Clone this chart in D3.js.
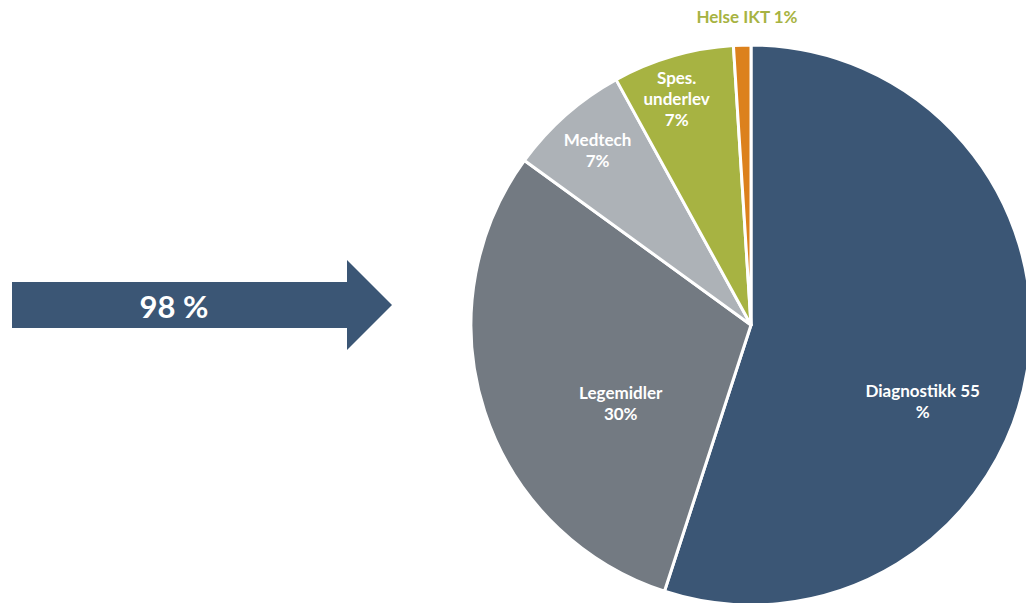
<!DOCTYPE html>
<html>
<head>
<meta charset="utf-8">
<script src="https://cdn.jsdelivr.net/npm/d3@7"></script>
<style>
  html, body { margin: 0; padding: 0; background: #fff; }
  svg { display: block; font-family: Lato, "Open Sans", sans-serif; font-weight: bold; }
</style>
</head>
<body>
<svg width="1026" height="603"></svg>
<script>
// data
let categories = ["Diagnostikk", "Legemidler", "Medtech", "Spes. underlev", "Helse IKT"];
let shares = [55, 30, 7, 7, 1];
let labelLines = [["Diagnostikk 55", "%"], ["Legemidler", "30%"], ["Medtech", "7%"], ["Spes.", "underlev", "7%"], ["Helse IKT 1%"]];
let arrowLabel = "98 %";

let colors = ["#3b5675", "#737a82", "#adb2b7", "#a7b342", "#dc811d"];

const svg = d3.select("svg");
const cx = 751, cy = 325, r = 280;

const pie = d3.pie().sort(null).value(d => d)(shares);
const arc = d3.arc().innerRadius(0).outerRadius(r);

const g = svg.append("g").attr("transform", `translate(${cx},${cy})`);

g.selectAll("path")
    .data(pie)
    .join("path")
    .attr("d", arc)
    .attr("fill", (d, i) => colors[i])
    .attr("stroke", "#fff")
    .attr("stroke-width", 3)
    .attr("stroke-linejoin", "round");

// label placement: radius and angle nudge (degrees) for each slice
let labelRadius = [188, 152, 232, 238, 308];
let labelShift = [15, -13, 0, -2, -3.5];

pie.forEach((d, i) => {
    let mid = (d.startAngle + d.endAngle) / 2 + labelShift[i] * Math.PI / 180;
    if (i == 4) mid = -0.013;
    let x = labelRadius[i] * Math.sin(mid);
    let y = -labelRadius[i] * Math.cos(mid);
    let lines = labelLines[i];
    let lh = 21;
    let t = g.append("text")
        .attr("text-anchor", "middle")
        .attr("font-size", 17)
        .attr("fill", i == 4 ? colors[3] : "#fff");
    lines.forEach((s, k) => {
        t.append("tspan")
            .attr("x", x)
            .attr("y", y + (k - (lines.length - 1) / 2) * lh + 6)
            .text(s);
    });
});

// arrow on the left
const arrow = svg.append("g");
arrow.append("path")
    .attr("d", "M12,282 L347,282 L347,260 L392,305 L347,350 L347,328 L12,328 Z")
    .attr("fill", "#3b5675");
arrow.append("text")
    .attr("x", 174)
    .attr("y", 318)
    .attr("text-anchor", "middle")
    .attr("font-size", 31)
    .attr("fill", "#fff")
    .text(arrowLabel);
</script>
</body>
</html>
